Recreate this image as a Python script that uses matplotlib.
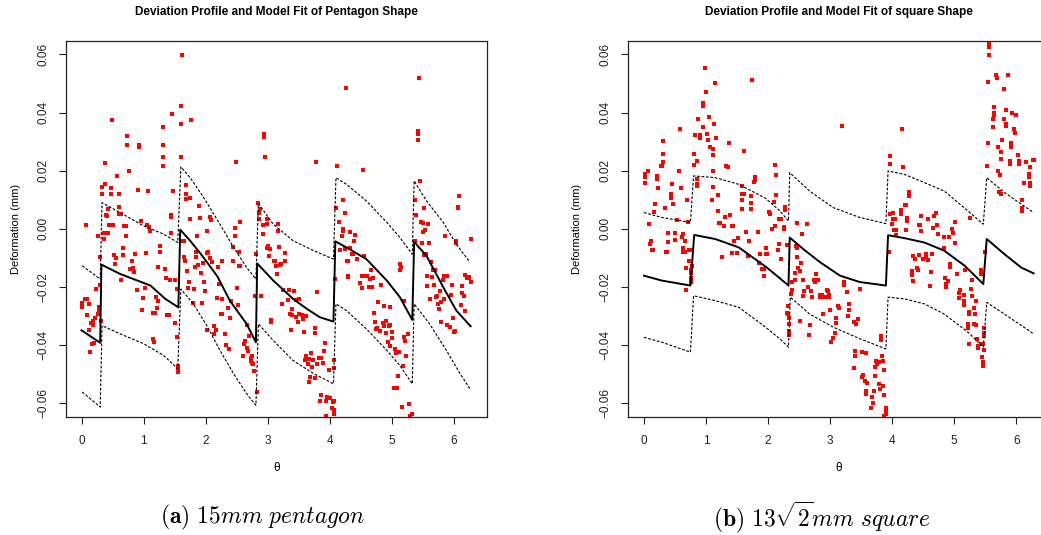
import matplotlib
matplotlib.use("Agg")
import matplotlib.pyplot as plt

plt.rcParams['font.family'] = ['Liberation Sans', 'DejaVu Sans']
plt.rcParams['mathtext.fontset'] = 'cm'

# ---- pentagon: measured deviations (theta, deformation in mm) ----
pent_points = [
    (1.62, 0.0599), (1.605, 0.0424), (1.46, 0.0394), (1.766, 0.0373), (1.605, 0.0362),
    (0.494, 0.0373), (1.315, 0.0349), (0.735, 0.0318), (0.735, 0.0287), (0.929, 0.0287),
    (0.929, 0.0283), (1.315, 0.029), (1.315, 0.0246), (1.605, 0.0246), (1.315, 0.0215),
    (0.381, 0.0225), (0.767, 0.0198), (0.574, 0.018), (0.333, 0.0144), (0.381, 0.0153),
    (0.477, 0.0141), (0.333, 0.0119), (0.477, 0.0119), (0.607, 0.0119), (0.913, 0.0133),
    (1.074, 0.0129), (1.476, 0.0129), (1.685, 0.0152), (1.685, 0.0119), (1.685, 0.0102),
    (1.75, 0.0105), (1.895, 0.0078), (1.91, 0.0037), (1.75, 0.0033), (2.02, -0.0008),
    (2.02, -0.0082), (1.857, -0.0025), (0.607, 0.0075), (0.43, 0.0067), (0.40, 0.0047),
    (0.41, 0.0043), (0.607, 0.005), (0.64, 0.0052), (0.445, 0.0013), (0.51, 0.0013),
    (0.075, 0.0013), (0.268, -0.0025), (0.365, -0.0035), (0.365, -0.0015), (0.43, -0.0015),
    (0.687, 0.0009), (0.72, 0.0009), (0.72, -0.0025), (0.96, 0.0026), (1.09, 0.0006),
    (1.106, -0.0008), (1.057, 0.0013), (1.444, 0.0047), (1.444, 0.0041), (1.444, -0.0015),
    (1.267, -0.0059), (1.267, -0.008), (1.04, -0.0083), (0.864, -0.0087), (0.67, -0.0066),
    (0.67, -0.009), (0.526, -0.009), (0.558, -0.01), (0.542, -0.0121), (0.816, -0.011),
    (0.784, -0.0138), (0.832, -0.0135), (0.848, -0.0149), (0.64, -0.0176), (0.896, -0.021),
    (1.025, -0.0203), (0.993, -0.0238), (1.235, -0.0131), (1.347, -0.0138), (1.363, -0.0169),
    (1.428, -0.0176), (1.51, -0.0176), (1.202, -0.0234), (1.235, -0.0248), (1.22, -0.0272),
    (1.155, -0.0289), (1.19, -0.0289), (0.977, -0.0279), (1.379, -0.0296), (1.41, -0.0296),
    (1.54, -0.0207), (1.508, -0.0323), (1.54, -0.0371), (1.155, -0.0378), (1.17, -0.0389),
    (1.653, -0.0043), (1.62, -0.0043), (1.653, -0.0097), (1.67, -0.011), (1.70, -0.0145),
    (1.846, -0.008), (1.846, -0.0097), (1.83, -0.0131), (1.88, -0.0125), (1.927, -0.0152),
    (1.96, -0.0118), (1.975, -0.0183), (1.733, -0.0183), (1.814, -0.0207), (1.717, -0.0203),
    (1.798, -0.0255), (1.943, -0.0255), (1.99, -0.0214), (1.557, -0.0471), (1.557, -0.0481),
    (1.557, -0.0491),
    (0.011, -0.0255), (0.011, -0.0269), (0.059, -0.0241), (0.09, -0.0241), (0.12, -0.0258),
    (0.09, -0.0296), (0.22, -0.0306), (0.284, -0.0269), (0.284, -0.0282), (0.268, -0.0293),
    (0.236, -0.0207), (0.30, -0.0193), (0.30, -0.0097), (0.317, -0.0317), (0.188, -0.0317),
    (0.156, -0.0323), (0.188, -0.033), (0.12, -0.0347), (0.172, -0.0395), (0.204, -0.0392),
    (0.14, -0.0423),
    (4.262, 0.0486), (2.94, 0.0325), (2.94, 0.0317), (2.96, 0.0246), (2.49, 0.0229),
    (3.779, 0.0229), (4.117, 0.0215), (2.845, 0.0088), (2.877, 0.0067), (2.86, 0.0054),
    (2.86, 0.0033), (2.925, 0.0013), (2.99, 0.0033), (2.99, 0.0016), (3.166, 0.0016),
    (3.166, -0.0008), (2.925, -0.0018), (3.005, -0.0059), (3.04, -0.007), (2.99, -0.0066),
    (3.18, -0.0063), (3.28, -0.0083), (3.02, -0.0094), (3.10, -0.011), (3.115, -0.011),
    (3.136, -0.0128), (3.20, -0.0125), (3.215, -0.0121), (3.28, -0.011), (3.15, -0.0155),
    (2.812, -0.0087), (2.80, -0.0231), (2.89, -0.0231), (3.247, -0.021), (3.345, -0.021),
    (3.424, -0.0214), (3.457, -0.0245), (3.505, -0.0241), (3.327, -0.0245), (3.23, -0.0258),
    (3.392, -0.0275), (3.36, -0.0293), (3.392, -0.0296), (3.457, -0.0303), (3.505, -0.0293),
    (3.553, -0.0296), (3.586, -0.03), (3.618, -0.03), (3.569, -0.031), (3.489, -0.032),
    (3.054, -0.032), (3.054, -0.0313), (3.794, -0.0217), (3.375, -0.0347), (3.586, -0.0354),
    (3.762, -0.0341), (3.762, -0.0358), (3.923, -0.0392), (3.907, -0.0419), (3.697, -0.0426),
    (3.618, -0.0437), (3.601, -0.045), (3.666, -0.0447), (3.73, -0.045), (3.827, -0.0443),
    (3.858, -0.0443), (3.891, -0.0461), (3.65, -0.0464), (3.714, -0.0474), (3.794, -0.0464),
    (4.068, -0.045), (3.987, -0.0485), (4.068, -0.0478), (3.683, -0.0509), (3.666, -0.0526),
    (3.762, -0.0512), (3.858, -0.057), (3.955, -0.0577), (4.004, -0.0581), (3.843, -0.0591),
    (3.939, -0.0591), (4.068, -0.0591), (4.052, -0.0595), (4.036, -0.0615), (4.068, -0.0622),
    (4.068, -0.0636), (3.939, -0.0642), (2.828, -0.056),
    (2.07, 0.0042), (2.088, 0.003), (2.555, 0.0023), (2.474, 0.0002), (2.474, -0.0025),
    (2.44, -0.0063), (2.538, -0.008), (2.034, -0.008), (2.07, -0.01), (2.103, -0.0114),
    (2.264, -0.011), (2.44, -0.011), (2.538, -0.0128), (2.555, -0.0128), (2.20, -0.0131),
    (2.506, -0.0203), (2.216, -0.019), (2.183, -0.0238), (2.264, -0.0241), (2.264, -0.0293),
    (2.248, -0.0293), (2.36, -0.0272), (2.392, -0.0306), (2.41, -0.0248), (2.522, -0.0262),
    (2.667, -0.033), (2.705, -0.0368), (2.635, -0.0385), (2.619, -0.0395), (2.683, -0.0419),
    (2.667, -0.0409), (2.603, -0.0437), (2.75, -0.0437), (2.733, -0.0443), (2.733, -0.0454),
    (2.765, -0.0464), (2.75, -0.0461), (2.78, -0.0488), (2.136, -0.0334), (2.168, -0.0347),
    (2.136, -0.0361), (2.312, -0.0361), (2.328, -0.0399), (2.376, -0.0413), (2.018, -0.0347),
    (4.213, 0.0098), (4.245, 0.0054), (4.149, 0.0023), (4.213, -0.0001), (4.213, -0.0008),
    (4.197, -0.0025), (4.245, -0.007), (4.278, -0.011), (4.293, -0.0162), (4.085, -0.0173),
    (4.10, 0.0071), (4.165, -0.0073),
    (5.437, 0.0517), (5.42, 0.0338), (5.42, 0.0325), (5.42, 0.0307), (4.535, 0.0201),
    (5.453, 0.0163), (5.373, 0.0098), (5.518, 0.0071), (5.388, 0.0047), (5.469, 0.0023),
    (5.58, 0.0016), (5.503, 0.0019), (5.534, -0.0005), (5.503, -0.0011), (5.373, -0.0042),
    (5.485, -0.0049), (5.598, -0.0049), (5.55, -0.0087), (5.518, -0.009), (5.63, -0.0114),
    (5.662, -0.0142), (5.695, -0.0142), (5.566, -0.0162), (5.566, -0.0197), (5.646, -0.0166),
    (5.678, -0.0193), (5.614, -0.0241), (5.727, -0.0231), (5.711, -0.0234), (5.775, -0.0214),
    (5.743, -0.0258), (5.759, -0.0275), (5.791, -0.0251), (5.823, -0.0176), (5.84, -0.0162),
    (5.888, -0.0162), (5.872, -0.0162), (5.84, -0.0241), (5.952, -0.0227), (5.969, -0.0193),
    (5.791, -0.032), (5.888, -0.033), (5.936, -0.0337), (5.985, -0.0306), (6.0, -0.0354),
    (6.017, -0.0351), (5.856, -0.0025), (6.033, -0.0042), (6.033, -0.0049), (6.081, 0.0112),
    (6.065, 0.0074), (6.065, 0.0071), (6.275, -0.0035), (6.129, -0.0197), (6.129, -0.0221),
    (6.162, -0.0231), (6.178, -0.0159), (6.21, -0.0169), (6.243, -0.0169), (6.243, -0.0166),
    (6.275, -0.0183), (6.113, -0.0262), (6.178, -0.0282),
    (4.326, -0.0011), (4.406, -0.0022), (4.39, -0.0042), (4.326, -0.0066), (4.44, -0.0104),
    (4.375, -0.0087), (4.359, -0.0087), (4.55, -0.0094), (4.294, -0.011), (4.294, -0.0166),
    (4.52, -0.0162), (4.585, -0.0162), (4.601, -0.0162), (4.664, -0.0142), (4.65, -0.0173),
    (4.697, -0.0169), (4.487, -0.0186), (4.52, -0.0203), (4.632, -0.02), (4.68, -0.02),
    (4.825, -0.0193), (5.131, -0.0121), (5.147, -0.0131), (5.131, -0.0142), (4.777, -0.0251),
    (4.874, -0.0265), (4.97, -0.0269), (4.712, -0.0289), (4.728, -0.032), (4.76, -0.0341),
    (4.744, -0.0344), (4.809, -0.0351), (4.857, -0.0323), (4.905, -0.0317), (4.97, -0.033),
    (4.874, -0.0334), (4.954, -0.0334), (4.905, -0.0358), (5.003, -0.0354), (5.003, -0.0375),
    (4.937, -0.0389), (5.196, -0.0248), (5.196, -0.0371), (5.212, -0.0385), (5.26, -0.0361),
    (4.97, -0.0402), (5.05, -0.0413), (5.066, -0.0426), (5.115, -0.0423), (5.228, -0.0437),
    (5.18, -0.0471), (5.1, -0.0505), (5.036, -0.0546), (5.083, -0.0546), (5.276, -0.0601),
    (5.163, -0.0612), (5.324, -0.0636), (5.292, -0.0642),
]

# pentagon model fit and its bounds (vertices along each edge)
pent_fit_x = [0.0, 0.30, 0.32, 0.62, 1.11, 1.35, 1.56, 1.59, 1.75, 1.92, 2.05, 2.19, 2.39,
              2.66, 2.81, 2.83, 3.09, 3.41, 3.63, 3.84, 4.06, 4.09, 4.27, 4.59, 4.92, 5.13,
              5.33, 5.36, 5.56, 5.83, 6.04, 6.27]
pent_fit_y = [-0.0349, -0.0392, -0.0123, -0.0155, -0.0195, -0.0241, -0.027, -0.0003, -0.0041,
              -0.0086, -0.0123, -0.0164, -0.0247, -0.0327, -0.039, -0.0119, -0.0178, -0.0241,
              -0.0275, -0.0304, -0.0319, -0.0043, -0.0064, -0.0104, -0.0178, -0.0235, -0.0313,
              -0.0045, -0.0093, -0.0201, -0.0281, -0.0335]
pent_up_x = [0.01, 0.30, 0.33, 0.62, 1.0, 1.32, 1.55, 1.60, 1.75, 1.97, 2.23, 2.45, 2.66,
             2.81, 2.85, 3.09, 3.41, 3.74, 4.06, 4.10, 4.27, 4.59, 4.92, 5.13, 5.33, 5.36,
             5.56, 5.83, 6.04, 6.26]
pent_up_y = [-0.0127, -0.0173, 0.009, 0.0056, 0.001, -0.0018, -0.0047, 0.0213, 0.0176, 0.0107,
             0.0016, -0.0064, -0.0133, -0.0173, 0.0087, 0.0016, -0.0041, -0.0075, -0.0104,
             0.0176, 0.0153, 0.0096, 0.0022, -0.003, -0.0087, 0.0165, 0.0096, 0.0022, -0.0053,
             -0.0115]
pent_lo_x = [0.01, 0.30, 0.33, 0.62, 1.0, 1.32, 1.55, 1.60, 1.80, 2.02, 2.23, 2.45, 2.66,
             2.81, 2.85, 3.09, 3.41, 3.74, 4.06, 4.10, 4.27, 4.59, 4.92, 5.13, 5.33, 5.36,
             5.61, 5.88, 6.10, 6.26]
pent_lo_y = [-0.0561, -0.0613, -0.0333, -0.0361, -0.0395, -0.0435, -0.0481, -0.0207, -0.0258,
             -0.0333, -0.0418, -0.0498, -0.0567, -0.0607, -0.0327, -0.0384, -0.0453, -0.0498,
             -0.0533, -0.0258, -0.0281, -0.0344, -0.0418, -0.047, -0.0533, -0.0258, -0.0327,
             -0.0418, -0.0498, -0.055]

# ---- square: measured deviations ----
sq_points = [
    (0.983, 0.0554), (1.74, 0.0513), (1.144, 0.05), (0.998, 0.0472), (0.95, 0.0434),
    (0.95, 0.0424), (1.047, 0.0386), (0.87, 0.0376), (1.128, 0.0362), (0.95, 0.0349),
    (0.58, 0.0342), (1.015, 0.0325), (0.822, 0.0321), (0.902, 0.0321), (0.902, 0.0311),
    (1.03, 0.0307), (1.16, 0.0311), (0.306, 0.0301), (1.37, 0.0294), (1.063, 0.028),
    (1.112, 0.0273), (1.61, 0.0266), (0.306, 0.0259), (0.806, 0.0259), (1.112, 0.0253),
    (0.854, 0.0232), (0.306, 0.0229), (0.806, 0.0218), (0.274, 0.0215), (0.29, 0.0215),
    (1.321, 0.0215), (1.353, 0.0211), (0.065, 0.0198), (0.564, 0.0198), (0.017, 0.0187),
    (0.017, 0.0177), (0.21, 0.018), (0.21, 0.017), (1.112, 0.0198), (1.788, 0.0177),
    (1.788, 0.0167), (0.854, 0.017), (0.017, 0.0157), (0.451, 0.0153), (0.854, 0.0153),
    (0.854, 0.0146), (0.596, 0.0139), (0.226, 0.0139), (1.112, 0.0143), (1.77, 0.016),
    (0.435, 0.0119), (0.435, 0.0105), (1.192, 0.0115), (1.58, 0.0146), (1.58, 0.0119),
    (1.61, 0.0119), (1.58, 0.0098), (1.724, 0.0112), (1.724, 0.0088), (0.178, 0.0085),
    (0.467, 0.0085), (0.693, 0.0098), (1.096, 0.0098), (0.34, 0.0071), (0.16, 0.0057),
    (1.58, 0.0067), (1.724, 0.0067), (1.192, 0.006), (1.385, 0.0047), (1.305, 0.004),
    (0.08, 0.0016), (1.208, 0.0019), (1.224, 0.0019), (0.532, 0.003), (0.71, 0.0023),
    (1.294, 0.0009), (1.418, 0.0009), (1.434, 0.0009), (1.643, -0.0011), (1.836, -0.0011),
    (0.387, -0.0015), (0.5, -0.0015), (0.629, -0.0018), (0.613, -0.0029), (0.114, -0.0042),
    (0.097, -0.0053), (0.5, -0.0039), (0.387, -0.0046), (0.66, -0.0042), (1.69, -0.0042),
    (1.514, -0.0032), (1.45, -0.0042), (0.13, -0.0073), (0.146, -0.0073), (0.354, -0.008),
    (0.37, -0.008), (0.629, -0.0066), (0.629, -0.008), (0.66, -0.008), (0.725, -0.0073),
    (0.757, -0.0073), (1.418, -0.0083), (1.498, -0.0083), (1.966, -0.0066), (1.87, -0.0087),
    (1.256, -0.0097), (1.675, -0.0094), (1.966, -0.0087), (0.725, -0.011), (0.773, -0.0128),
    (0.677, -0.0135), (0.757, -0.0142), (1.853, -0.0118), (1.9, -0.0138), (1.933, -0.0138),
    (1.933, -0.0162), (0.757, -0.0152), (0.757, -0.0169), (0.757, -0.0183), (0.677, -0.021),
    (3.189, 0.0352), (4.155, 0.0342), (3.962, 0.0249), (3.962, 0.0222), (4.171, 0.0211),
    (2.11, 0.0218), (2.126, 0.0184), (2.126, 0.0115), (2.094, 0.0091), (2.27, 0.0074),
    (2.27, 0.0064), (2.015, 0.0057), (2.03, 0.005), (2.174, 0.0033), (2.206, 0.0033),
    (3.962, 0.005), (4.01, 0.0054), (4.139, 0.0064), (4.139, 0.005), (4.203, 0.0081),
    (4.01, 0.0033), (4.042, 0.0033), (3.994, 0.0016), (2.465, 0.0019), (2.626, 0.0016),
    (2.11, 0.0009), (2.255, 0.0006), (2.255, -0.0001), (2.063, -0.0001), (4.026, -0.0005),
    (4.058, -0.0005), (4.22, -0.0005), (4.06, -0.0022), (2.545, -0.0018), (2.174, -0.0053),
    (2.304, -0.0056), (2.45, -0.0059), (2.465, -0.0066), (2.158, -0.0073), (2.206, -0.0104),
    (1.976, -0.0087), (3.946, -0.008), (2.465, -0.0097), (2.528, -0.0118), (2.48, -0.0135),
    (2.432, -0.0152), (2.432, -0.0176), (2.513, -0.0145), (2.77, -0.0155), (2.561, -0.0176),
    (2.738, -0.0176), (2.803, -0.0176), (2.754, -0.0183), (3.221, -0.0183), (3.221, -0.0193),
    (3.269, -0.0217), (3.478, -0.0207), (2.384, -0.0183), (2.384, -0.021), (2.642, -0.02),
    (2.69, -0.0214), (2.577, -0.0214), (2.947, -0.021), (2.963, -0.0214), (2.835, -0.0227),
    (2.867, -0.0227), (2.835, -0.0234), (2.899, -0.0234), (2.915, -0.0234), (2.98, -0.0227),
    (2.98, -0.0234), (2.561, -0.0231), (2.706, -0.0234), (3.301, -0.0258), (3.124, -0.0265),
    (3.14, -0.0272), (2.996, -0.0279), (3.301, -0.0279), (2.883, -0.0293), (3.285, -0.03),
    (3.092, -0.0306), (3.446, -0.031), (3.382, -0.032), (3.414, -0.0327), (3.092, -0.0323),
    (2.513, -0.0317), (2.674, -0.033), (2.658, -0.0365), (3.076, -0.0358), (3.044, -0.0375),
    (3.012, -0.0389), (2.32, -0.0265), (2.32, -0.0293), (2.336, -0.0306), (2.336, -0.0327),
    (2.336, -0.0351), (2.336, -0.0365), (2.368, -0.0224), (2.304, -0.0289), (3.817, -0.0368),
    (3.817, -0.0382), (3.399, -0.0419), (3.399, -0.0437), (3.511, -0.0423), (3.575, -0.0426),
    (3.833, -0.0437), (3.849, -0.0454), (3.784, -0.0457), (3.736, -0.0454), (3.752, -0.0464),
    (3.72, -0.0474), (3.383, -0.0478), (3.865, -0.0485), (3.527, -0.0502), (3.511, -0.0509),
    (3.72, -0.0505), (3.559, -0.0522), (3.591, -0.0529), (3.784, -0.0533), (3.849, -0.054),
    (3.8, -0.055), (3.575, -0.0557), (3.575, -0.0567), (3.704, -0.0557), (3.865, -0.057),
    (3.672, -0.0577), (3.688, -0.0598), (3.656, -0.0615), (3.897, -0.0615), (3.897, -0.0625),
    (3.897, -0.0636), (3.865, -0.0642),
    (5.557, 0.064), (5.557, 0.0626), (5.557, 0.0599), (5.669, 0.053), (5.862, 0.053),
    (5.685, 0.0517), (5.54, 0.0506), (5.798, 0.0482), (5.637, 0.042), (5.637, 0.04),
    (5.637, 0.0393), (5.62, 0.0376), (5.83, 0.0407), (5.94, 0.0397), (5.991, 0.0393),
    (5.798, 0.0379), (5.83, 0.0362), (5.83, 0.0355), (5.62, 0.0349), (5.958, 0.0342),
    (5.974, 0.0331), (5.765, 0.0307), (5.54, 0.0294), (5.91, 0.0294), (5.91, 0.0283),
    (5.701, 0.0283), (5.749, 0.0263), (6.022, 0.0253), (5.749, 0.0239), (5.894, 0.0232),
    (5.894, 0.0222), (6.038, 0.0232), (6.038, 0.0222), (6.15, 0.0229), (6.263, 0.0235),
    (6.279, 0.0235), (6.23, 0.0211), (5.524, 0.0215), (5.701, 0.0198), (5.733, 0.0184),
    (6.2, 0.0187), (6.2, 0.0177), (6.119, 0.0157), (6.23, 0.0157), (6.23, 0.0146),
    (5.717, 0.0126), (5.749, 0.0119), (6.086, 0.0098), (6.1, 0.0071), (6.1, 0.006),
    (4.268, 0.0126), (4.268, 0.0112), (4.22, 0.0081), (4.236, 0.0037), (4.236, 0.0026),
    (4.46, 0.0043), (4.573, 0.0033), (4.67, 0.0043), (4.70, 0.0054), (5.25, 0.0037),
    (5.008, 0.0023), (4.445, 0.0013), (4.429, 0.0013), (4.72, 0.0013), (4.655, 0.0002),
    (4.46, -0.0008), (4.96, -0.0001), (4.976, -0.0015), (4.736, -0.0018), (4.83, -0.0029),
    (4.91, -0.0029), (5.008, -0.0049), (4.83, -0.0066), (4.332, -0.0094), (4.364, -0.0104),
    (4.43, -0.009), (4.495, -0.0104), (4.54, -0.0087), (4.54, -0.0101), (4.573, -0.0107),
    (4.637, -0.0087), (4.928, -0.0121), (4.928, -0.0131), (4.316, -0.0145), (4.316, -0.0159),
    (4.396, -0.0135), (4.412, -0.0142), (4.62, -0.0149), (4.332, -0.0179), (4.605, -0.0197),
    (5.04, -0.0155), (4.846, -0.0169), (4.895, -0.0179), (4.863, -0.019), (4.863, -0.02),
    (5.169, -0.0142), (5.426, -0.0142), (5.49, -0.008), (5.437, -0.0155), (5.29, -0.0176),
    (5.09, -0.021), (5.074, -0.0221), (5.074, -0.0238), (5.155, -0.0227), (5.155, -0.0248),
    (5.155, -0.0262), (5.268, -0.0207), (5.284, -0.0231), (5.349, -0.0248), (5.316, -0.0272),
    (5.236, -0.0286), (5.236, -0.0293), (5.333, -0.0293), (5.22, -0.0327), (5.316, -0.0327),
    (5.349, -0.033), (5.22, -0.0341), (5.476, -0.0341), (5.476, -0.0358), (5.476, -0.0368),
    (5.236, -0.0395), (5.365, -0.0378), (5.381, -0.0402), (5.381, -0.0409), (5.43, -0.0395),
    (5.46, -0.0395), (5.476, -0.0416), (5.444, -0.044), (5.46, -0.0457), (5.46, -0.0471),
]

sq_fit_x = [0.0, 0.29, 0.75, 0.81, 1.15, 1.53, 1.98, 2.14, 2.33, 2.35, 2.57, 2.84, 3.16,
            3.48, 3.90, 3.935, 4.20, 4.52, 4.84, 5.17, 5.47, 5.525, 5.81, 6.08, 6.28]
sq_fit_y = [-0.0161, -0.0178, -0.0195, -0.0021, -0.0035, -0.0064, -0.0133, -0.0161, -0.0195,
            -0.003, -0.007, -0.0115, -0.0161, -0.0183, -0.0195, -0.0022, -0.0032, -0.0047,
            -0.0075, -0.0127, -0.019, -0.0035, -0.0087, -0.0133, -0.0153]
sq_up_x = [0.0, 0.29, 0.75, 0.80, 1.15, 1.53, 1.96, 2.19, 2.33, 2.35, 2.67, 3.05, 3.48,
           3.90, 3.935, 4.20, 4.52, 4.84, 5.22, 5.47, 5.525, 5.81, 6.28]
sq_up_y = [0.0056, 0.0039, 0.0022, 0.0182, 0.0176, 0.0153, 0.0105, 0.0062, 0.0027, 0.0193,
           0.013, 0.0073, 0.0039, 0.0018, 0.0199, 0.0187, 0.0159, 0.013, 0.0062, 0.0016,
           0.0176, 0.0125, 0.0056]
sq_lo_x = [0.0, 0.29, 0.75, 0.80, 1.15, 1.53, 1.96, 2.19, 2.33, 2.36, 2.67, 3.05, 3.48,
           3.90, 3.935, 4.20, 4.52, 4.84, 5.22, 5.47, 5.525, 5.81, 6.28]
sq_lo_y = [-0.0373, -0.039, -0.0424, -0.023, -0.0247, -0.027, -0.0338, -0.0378, -0.0407,
           -0.0235, -0.0293, -0.0338, -0.0378, -0.0413, -0.0235, -0.0241, -0.0258, -0.0293,
           -0.0355, -0.0407, -0.0253, -0.0293, -0.0361]

titles = ['Deviation Profile and Model Fit of Pentagon Shape',
          'Deviation Profile and Model Fit of square Shape']
captions = [r'$\mathbf{(a)}\ 15mm\ pentagon$',
            r'$\mathbf{(b)}\ 13\sqrt{2}mm\ square$']
yticks = [-0.06, -0.04, -0.02, 0.0, 0.02, 0.04, 0.06]
ytick_labels = ['\u22120.06', '\u22120.04', '\u22120.02', '0.00', '0.02', '0.04', '0.06']

fig = plt.figure(figsize=(10.41, 5.35), dpi=100)
ax1 = fig.add_axes([0.0634, 0.2206, 0.4044, 0.7028])
ax2 = fig.add_axes([0.6036, 0.2206, 0.4044, 0.7028])

panels = [
    (ax1, pent_points, pent_fit_x, pent_fit_y, pent_up_x, pent_up_y, pent_lo_x, pent_lo_y),
    (ax2, sq_points, sq_fit_x, sq_fit_y, sq_up_x, sq_up_y, sq_lo_x, sq_lo_y),
]
centers = [0.2656, 0.8057]
ylab_x = [16 / 1041, 577 / 1041]
cap_x = [262 / 1041, 822 / 1041]

for i, (ax, pts, fx, fy, ux, uy, lx, ly) in enumerate(panels):
    th = [p[0] for p in pts]
    dv = [p[1] for p in pts]
    ax.plot(th, dv, 's', color='red', ms=2.4, mew=0, zorder=2)
    ax.plot(fx, fy, '-', color='black', lw=1.4, zorder=3)
    ax.plot(ux, uy, color='black', lw=0.8, dashes=(2.5, 1.5), zorder=3)
    ax.plot(lx, ly, color='black', lw=0.8, dashes=(2.5, 1.5), zorder=3)

    ax.set_xlim(-0.251, 6.534)
    ax.set_ylim(-0.0647, 0.0646)
    ax.set_xticks(range(7))
    ax.set_yticks(yticks)
    ax.set_yticklabels(ytick_labels, rotation=90, va='center')
    ax.tick_params(axis='both', direction='out', length=5, width=0.8,
                   labelsize=8.5, colors='#222222')
    ax.tick_params(axis='x', pad=8)
    ax.tick_params(axis='y', pad=7)
    for s in ax.spines.values():
        s.set_linewidth(0.9)
        s.set_color('#222222')

    fig.text(centers[i], 1 - 12 / 535, titles[i], ha='center', va='center',
             fontsize=8.5, fontweight='bold')
    fig.text(ylab_x[i], 1 - 229 / 535, 'Deformation (mm)', rotation=90,
             ha='center', va='center', fontsize=8)
    fig.text(centers[i], 1 - 468 / 535, '\u03b8', ha='center', va='center', fontsize=8.5)
    fig.text(cap_x[i], 1 - 517 / 535, captions[i], ha='center', va='center', fontsize=17)

fig.savefig('out.png', dpi=100)
